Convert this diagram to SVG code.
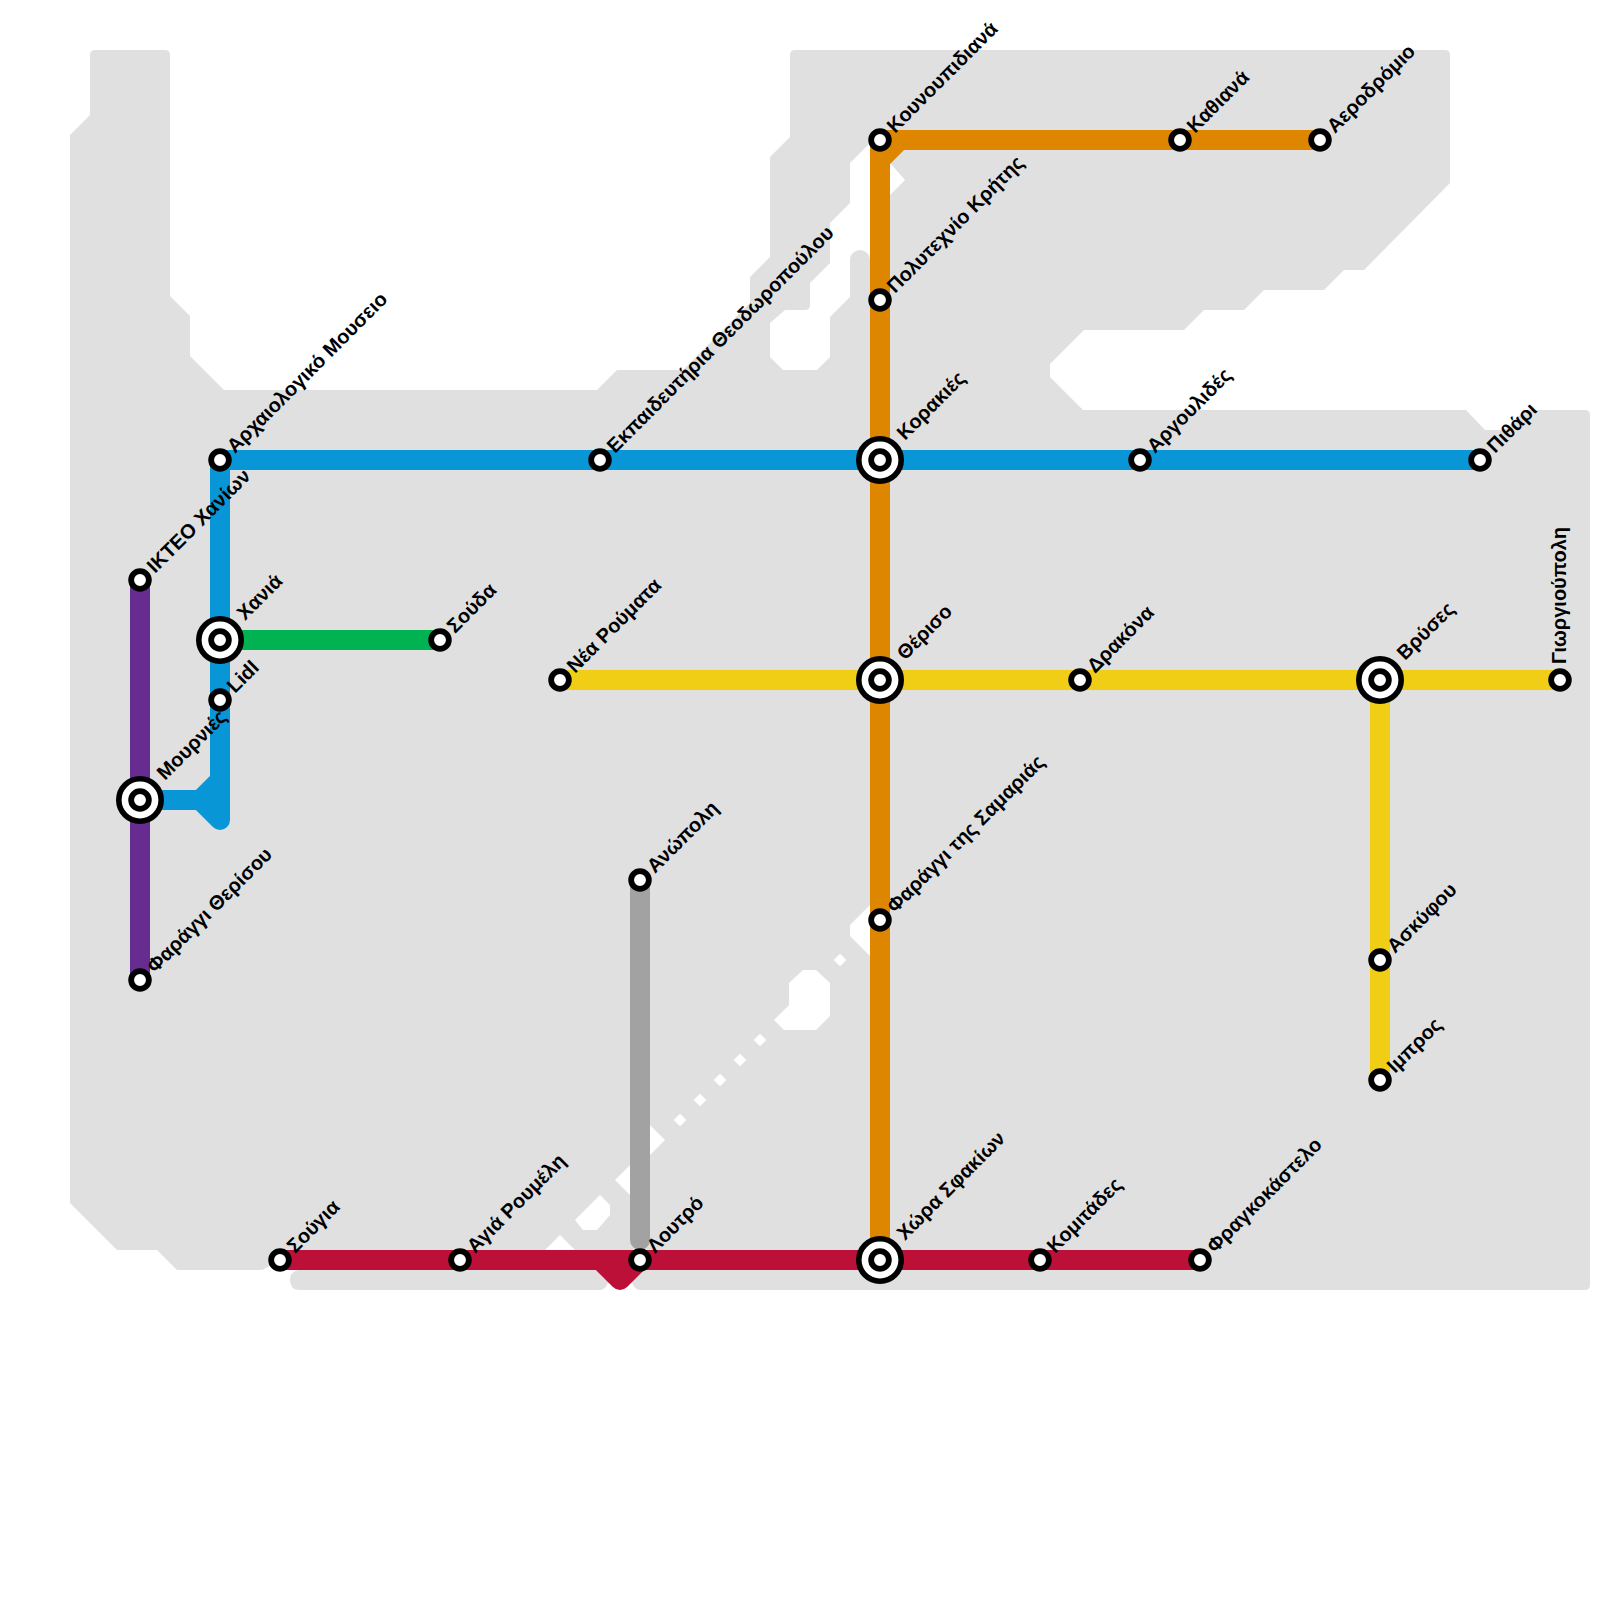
<svg xmlns="http://www.w3.org/2000/svg" width="1600" height="1600" viewBox="0 0 1600 1600">
<style>
.land{fill:#e0e0e0;fill-rule:evenodd}
.l{fill:none;stroke-width:20;stroke-linecap:round;stroke-linejoin:round}
.st{fill:#fff;stroke:#000;stroke-width:5.8}
.ring{fill:#fff;stroke:#000;stroke-width:5.6}
text{font-family:"Liberation Sans",Arial,sans-serif;font-size:20px;font-weight:700;fill:#000}
</style>
<defs>
<g id="s"><circle class="st" r="8.85"/></g>
<g id="x"><circle class="ring" r="21.2"/><circle class="st" r="8.85"/></g>
<rect id="d" x="-4.5" y="-4.5" width="9" height="9" transform="rotate(45)" fill="#fff"/>
</defs>
<rect width="1600" height="1600" fill="#fff"/>
<path id="land" class="land" d="M90,55 Q90,50 95,50 H165 Q170,50 170,55 V296 L190,316 V356 L224,390 H597 L617,370 H683 L750,303 V277 L770,257 V157 L790,137 V55 Q790,50 795,50 H1445 Q1450,50 1450,55 V183 L1364,270 H1344 L1324,290 H1264 L1244,310 H1204 L1184,330 H1084 L1050,364 V377 L1083,410 H1466 L1485,430 H1505 L1525,410 H1585 Q1590,410 1590,415 V1285 Q1590,1290 1585,1290 H640 Q635,1290 632,1283 L620,1272 L608,1283 Q605,1290 600,1290 H300 Q290,1290 290,1280 Q290,1272 298,1270 L280,1260 L266,1268 Q264,1270 260,1270 H177 L157,1250 H117 L70,1203 V135 L90,115 Z
M770,323 L785,310 H805 Q810,310 810,305 V283 L830,263 V223 L850,203 V163 L870,143 L890,163 L905,180 L890,195 L870,215 V260 A10,10 0 0 0 850,260 V297 L830,317 V357 L817,370 H783 L770,357 Z
M870,905 L850,925 V936 L870,956 Z
M774,1020 L789,1005 V983 L803,970 H816 L830,983 V1016 L816,1030 H784 Z
M650,1125 L665,1140 L650,1155 Z
M615,1180 L630,1165 V1195 Z
M575,1220 L600,1195 L610,1205 V1215 L597,1230 H583 Z
M545,1250 L560,1235 L575,1250 V1255 H545 Z"/>
<g id="gaps">
<use href="#d" x="680" y="1120"/><use href="#d" x="700" y="1100"/><use href="#d" x="720" y="1080"/><use href="#d" x="740" y="1060"/><use href="#d" x="760" y="1040"/><use href="#d" x="840" y="960"/>
</g>
<g id="connectors">
<path class="l" stroke="#662c90" d="M140,580 V980"/>
<path class="l" stroke="#a2a2a2" d="M640,880 V1240"/>
<path class="l" stroke="#00b251" d="M220,640 H440"/>
<path class="l" stroke="#0896d7" d="M1480,460 H220 V820 M140,800 H200 L220,780 M200,800 L220,820"/>
<path class="l" stroke="#f0ce15" d="M560,680 H1560 M1380,680 V1080"/>
<path class="l" stroke="#df8600" d="M1320,140 H880 V1260 M900,140 L880,160"/>
<path class="l" stroke="#bd1038" d="M280,1260 H1200 M600,1260 L620,1280 L640,1260"/>
</g>
<g id="n-arch"><use href="#s" x="220" y="460"/><text transform="translate(235,454) rotate(-45)">Αρχαιολογικό Μουσειο</text></g>
<g id="n-ikteo"><use href="#s" x="140" y="580"/><text transform="translate(155,574) rotate(-45)">ΙΚΤΕΟ Χανίων</text></g>
<g id="n-xania"><use href="#x" x="220" y="640"/><text transform="translate(245,621) rotate(-45)">Χανιά</text></g>
<g id="n-lidl"><use href="#s" x="220" y="700"/><text transform="translate(235,694) rotate(-45)">Lidl</text></g>
<g id="n-soyda"><use href="#s" x="440" y="640"/><text transform="translate(455,634) rotate(-45)">Σούδα</text></g>
<g id="n-mourn"><use href="#x" x="140" y="800"/><text transform="translate(165,781) rotate(-45)">Μουρνιές</text></g>
<g id="n-farag"><use href="#s" x="140" y="980"/><text transform="translate(155,974) rotate(-45)">Φαράγγι Θερίσου</text></g>
<g id="n-ekp"><use href="#s" x="600" y="460"/><text transform="translate(615,454) rotate(-45)">Εκπαιδευτήρια Θεοδωροπούλου</text></g>
<g id="n-koun"><use href="#s" x="880" y="140"/><text transform="translate(895,134) rotate(-45)">Κουνουπιδιανά</text></g>
<g id="n-kath"><use href="#s" x="1180" y="140"/><text transform="translate(1195,134) rotate(-45)">Καθιανά</text></g>
<g id="n-aero"><use href="#s" x="1320" y="140"/><text transform="translate(1335,134) rotate(-45)">Αεροδρόμιο</text></g>
<g id="n-poly"><use href="#s" x="880" y="300"/><text transform="translate(895,294) rotate(-45)">Πολυτεχνίο Κρήτης</text></g>
<g id="n-kor"><use href="#x" x="880" y="460"/><text transform="translate(905,441) rotate(-45)">Κορακιές</text></g>
<g id="n-arg"><use href="#s" x="1140" y="460"/><text transform="translate(1155,454) rotate(-45)">Αργουλιδές</text></g>
<g id="n-pith"><use href="#s" x="1480" y="460"/><text transform="translate(1495,454) rotate(-45)">Πιθάρι</text></g>
<g id="n-nea"><use href="#s" x="560" y="680"/><text transform="translate(575,674) rotate(-45)">Νέα Ρούματα</text></g>
<g id="n-ther"><use href="#x" x="880" y="680"/><text transform="translate(905,661) rotate(-45)">Θέρισο</text></g>
<g id="n-drak"><use href="#s" x="1080" y="680"/><text transform="translate(1095,674) rotate(-45)">Δρακόνα</text></g>
<g id="n-vrys"><use href="#x" x="1380" y="680"/><text transform="translate(1405,661) rotate(-45)">Βρύσες</text></g>
<g id="n-gior"><use href="#s" x="1560" y="680"/><text transform="translate(1566,664) rotate(-90)">Γιωργιούπολη</text></g>
<g id="n-sam"><use href="#s" x="880" y="920"/><text transform="translate(895,914) rotate(-45)">Φαράγγι της Σαμαριάς</text></g>
<g id="n-asky"><use href="#s" x="1380" y="960"/><text transform="translate(1395,954) rotate(-45)">Ασκύφου</text></g>
<g id="n-imb"><use href="#s" x="1380" y="1080"/><text transform="translate(1395,1074) rotate(-45)">Ιμπρος</text></g>
<g id="n-anop"><use href="#s" x="640" y="880"/><text transform="translate(655,874) rotate(-45)">Ανώπολη</text></g>
<g id="n-soug"><use href="#s" x="280" y="1260"/><text transform="translate(295,1254) rotate(-45)">Σούγια</text></g>
<g id="n-agia"><use href="#s" x="460" y="1260"/><text transform="translate(475,1254) rotate(-45)">Αγιά Ρουμέλη</text></g>
<g id="n-lout"><use href="#s" x="640" y="1260"/><text transform="translate(655,1254) rotate(-45)">Λουτρό</text></g>
<g id="n-xora"><use href="#x" x="880" y="1260"/><text transform="translate(905,1241) rotate(-45)">Χώρα Σφακίων</text></g>
<g id="n-kom"><use href="#s" x="1040" y="1260"/><text transform="translate(1055,1254) rotate(-45)">Κομιτάδες</text></g>
<g id="n-frag"><use href="#s" x="1200" y="1260"/><text transform="translate(1215,1254) rotate(-45)">Φραγκοκάστελο</text></g>
</svg>
